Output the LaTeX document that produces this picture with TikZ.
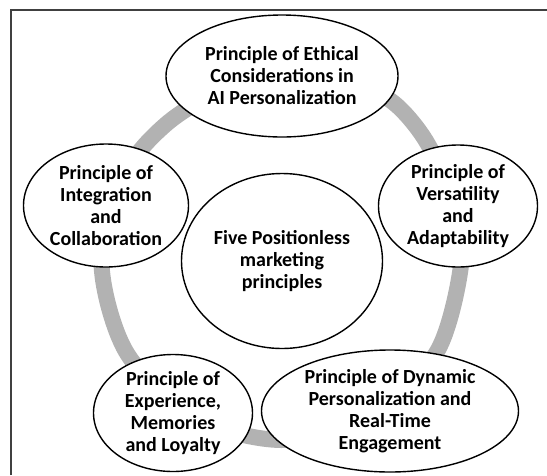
\documentclass[tikz,border=0pt]{standalone}
\usepackage{fontspec}
\setmainfont{Carlito}
\usetikzlibrary{shapes.geometric}

\begin{document}
\begin{tikzpicture}[x=1pt,y=-1pt,thick,main node/.style={ellipse,draw,fill=white,line width=1.4pt,inner xsep=0pt,inner ysep=-2pt,align=center,font=\fontsize{20}{22}\selectfont\bfseries},ring/.style={draw=black!30,line width=16pt}]
  \useasboundingbox (0,0) rectangle (547,475);
  \draw[black!75,line width=2pt] (10.5,475) -- (10.5,9.5) -- (547,9.5);

  % grey ring behind the principles (a bit wider at the upper right)
  \coordinate (0) at (281.5,261);
  \draw[ring,shift={(0)}] plot[smooth cycle] coordinates {(0:180) (-20:182) (-40:188) (-55:194) (-70:192) (-90:186) (-110:181) (-130:179) (-150:179) (180:180) (150:180) (120:180) (90:179) (60:180) (30:180)};

  \node[main node,minimum width=201pt,minimum height=175pt] (1) at (282,261) {Five Positionless\\marketing\\principles};
  \node[main node,minimum width=232pt,minimum height=122pt] (2) at (282,76) {Principle of Ethical\\Considerations in\\AI Personalization};
  \node[main node,minimum width=159pt,minimum height=122pt] (3) at (458,206) {Principle of\\Versatility\\and\\Adaptability};
  \node[main node,minimum width=257pt,minimum height=122pt] (4) at (390,411) {Principle of Dynamic\\Personalization and\\Real-Time\\Engagement};
  \node[main node,minimum width=159pt,minimum height=117pt] (5) at (173,413) {Principle of\\Experience,\\Memories\\and Loyalty};
  \node[main node,minimum width=165pt,minimum height=123pt] (6) at (106,205.5) {Principle of\\Integration\\and\\Collaboration};
\end{tikzpicture}
\end{document}
